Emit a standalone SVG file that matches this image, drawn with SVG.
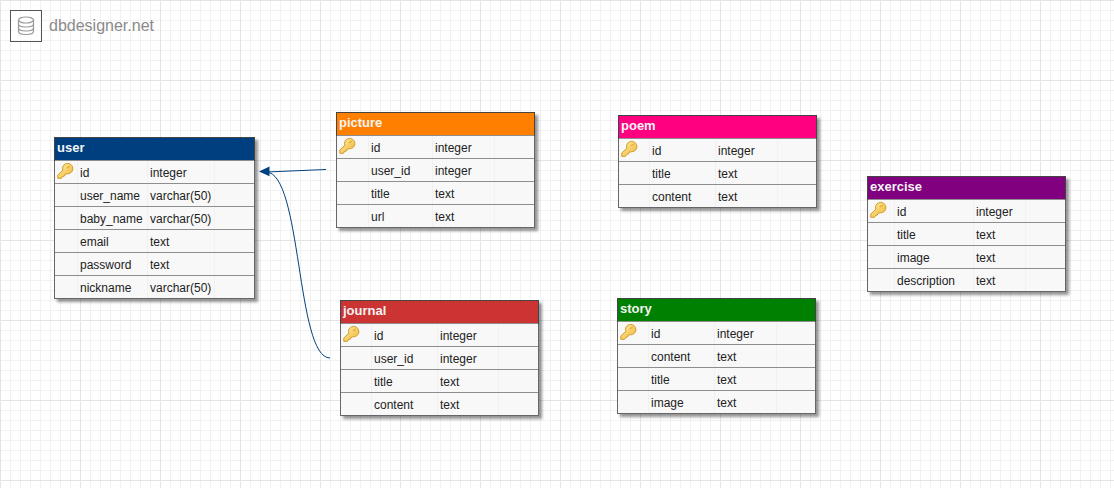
<svg xmlns="http://www.w3.org/2000/svg" xmlns:xlink="http://www.w3.org/1999/xlink" width="1114" height="488" viewBox="0 0 1114 488">
<style>
text{font-family:"Liberation Sans",Arial,sans-serif;font-size:12px;fill:#222}
.h{font-weight:bold;font-size:13px;fill:#f4f4f4}
.box{fill:#f8f8f8;stroke:#666;stroke-width:1;filter:url(#sh)}
.hd{stroke:#444;stroke-width:1}
.ln{stroke:#8e8e8e;stroke-width:1}
.cs{stroke:#f1f1f1;stroke-width:1}
.conn{fill:none;stroke:#00427f;stroke-width:1}
</style>
<defs>
<pattern id="g1" width="10" height="10" patternUnits="userSpaceOnUse"><path d="M.5 0V10M0 .5H10" fill="none" stroke="#f1f1f1"/></pattern>
<pattern id="g2" width="80" height="80" patternUnits="userSpaceOnUse"><path d="M.5 0V80M0 .5H80" fill="none" stroke="#e4e4e4"/></pattern>
<filter id="sh" x="-5%" y="-5%" width="115%" height="115%"><feDropShadow dx="3" dy="3" stdDeviation="1.800" flood-color="#000" flood-opacity=".42"/></filter>
<linearGradient id="kg" x1="0" y1="0" x2="1" y2="1"><stop offset="0" stop-color="#fff2a8"/><stop offset="1" stop-color="#f0b030"/></linearGradient>
<g id="key"><path d="M.8 12 L.8 15.300 L4.500 15.300 L5.500 13.500 L7.500 13 L8.300 11 L10.500 10.800 A5.200 5.200 0 1 0 5.500 5.800 L6 7.200 Z" fill="url(#kg)" stroke="#d29a2a" stroke-width="1"/><path d="M9.800 5 L12.800 3.200" stroke="#e3ad3c" stroke-width="1.400" fill="none"/></g>
</defs>
<rect width="1114" height="488" fill="#fff"/>
<rect width="1114" height="488" fill="url(#g1)"/>
<rect width="1114" height="488" fill="url(#g2)"/>
<g id="logo">
<rect x="10.500" y="10.500" width="31" height="31" fill="#fff" fill-opacity=".6" stroke="#555"/>
<g fill="none" stroke="#999" stroke-width="1.200"><ellipse cx="26" cy="20" rx="7.500" ry="3"/><path d="M18.500 20V31.500C18.500 35.500 33.500 35.500 33.500 31.500V20M18.500 24C18.500 28 33.500 28 33.500 24M18.500 28C18.500 32 33.500 32 33.500 28"/></g>
<text x="49" y="31" style="font-size:16px;fill:#8a8a8a">dbdesigner.net</text>
</g>
<g id="connectors">
<path class="conn" d="M326 169.500 L266 172"/>
<path class="conn" d="M330 358 C296 358 302 172 266 172"/>
<path d="M259 171.400 L269.500 166.500 L269.500 176.300 Z" fill="#00427f"/>
</g>
<g id="user">
<rect class="box" x="54.500" y="137.500" width="200" height="161"/>
<path class="cs" d="M77.500 161V298M147.500 161V298M214.500 161V298"/>
<rect class="hd" x="54.500" y="137.500" width="200" height="23" fill="#003f7f"/>
<path class="ln" d="M55 160.500H254M55 183.500H254M55 206.500H254M55 229.500H254M55 252.500H254M55 275.500H254"/>
<text class="h" x="57" y="152">user</text>
<use xlink:href="#key" href="#key" x="57" y="163"/>
<text x="80" y="177">id</text><text x="150" y="177">integer</text>
<text x="80" y="200">user_name</text><text x="150" y="200">varchar(50)</text>
<text x="80" y="223">baby_name</text><text x="150" y="223">varchar(50)</text>
<text x="80" y="246">email</text><text x="150" y="246">text</text>
<text x="80" y="269">password</text><text x="150" y="269">text</text>
<text x="80" y="292">nickname</text><text x="150" y="292">varchar(50)</text>
</g>
<g id="picture">
<rect class="box" x="336.500" y="112.500" width="198" height="115"/>
<path class="cs" d="M368.500 136V227M432.500 136V227M494.500 136V227"/>
<rect class="hd" x="336.500" y="112.500" width="198" height="23" fill="#ff8000"/>
<path class="ln" d="M337 135.500H534M337 158.500H534M337 181.500H534M337 204.500H534"/>
<text class="h" x="339" y="127">picture</text>
<use xlink:href="#key" href="#key" x="339" y="138"/>
<text x="371" y="152">id</text><text x="435" y="152">integer</text>
<text x="371" y="175">user_id</text><text x="435" y="175">integer</text>
<text x="371" y="198">title</text><text x="435" y="198">text</text>
<text x="371" y="221">url</text><text x="435" y="221">text</text>
</g>
<g id="poem">
<rect class="box" x="618.500" y="115.500" width="198" height="92"/>
<path class="cs" d="M649.500 139V207M715.500 139V207M777.500 139V207"/>
<rect class="hd" x="618.500" y="115.500" width="198" height="23" fill="#ff0080"/>
<path class="ln" d="M619 138.500H816M619 161.500H816M619 184.500H816"/>
<text class="h" x="621" y="130">poem</text>
<use xlink:href="#key" href="#key" x="621" y="141"/>
<text x="652" y="155">id</text><text x="718" y="155">integer</text>
<text x="652" y="178">title</text><text x="718" y="178">text</text>
<text x="652" y="201">content</text><text x="718" y="201">text</text>
</g>
<g id="exercise">
<rect class="box" x="867.500" y="176.500" width="198" height="115"/>
<path class="cs" d="M894.500 200V291M973.500 200V291M1025.500 200V291"/>
<rect class="hd" x="867.500" y="176.500" width="198" height="23" fill="#800080"/>
<path class="ln" d="M868 199.500H1065M868 222.500H1065M868 245.500H1065M868 268.500H1065"/>
<text class="h" x="870" y="191">exercise</text>
<use xlink:href="#key" href="#key" x="870" y="202"/>
<text x="897" y="216">id</text><text x="976" y="216">integer</text>
<text x="897" y="239">title</text><text x="976" y="239">text</text>
<text x="897" y="262">image</text><text x="976" y="262">text</text>
<text x="897" y="285">description</text><text x="976" y="285">text</text>
</g>
<g id="journal">
<rect class="box" x="340.500" y="300.500" width="198" height="115"/>
<path class="cs" d="M371.500 324V415M437.500 324V415M498.500 324V415"/>
<rect class="hd" x="340.500" y="300.500" width="198" height="23" fill="#cc3333"/>
<path class="ln" d="M341 323.500H538M341 346.500H538M341 369.500H538M341 392.500H538"/>
<text class="h" x="343" y="315">journal</text>
<use xlink:href="#key" href="#key" x="343" y="326"/>
<text x="374" y="340">id</text><text x="440" y="340">integer</text>
<text x="374" y="363">user_id</text><text x="440" y="363">integer</text>
<text x="374" y="386">title</text><text x="440" y="386">text</text>
<text x="374" y="409">content</text><text x="440" y="409">text</text>
</g>
<g id="story">
<rect class="box" x="617.500" y="298.500" width="198" height="115"/>
<path class="cs" d="M648.500 322V413M714.500 322V413M776.500 322V413"/>
<rect class="hd" x="617.500" y="298.500" width="198" height="23" fill="#008000"/>
<path class="ln" d="M618 321.500H815M618 344.500H815M618 367.500H815M618 390.500H815"/>
<text class="h" x="620" y="313">story</text>
<use xlink:href="#key" href="#key" x="620" y="324"/>
<text x="651" y="338">id</text><text x="717" y="338">integer</text>
<text x="651" y="361">content</text><text x="717" y="361">text</text>
<text x="651" y="384">title</text><text x="717" y="384">text</text>
<text x="651" y="407">image</text><text x="717" y="407">text</text>
</g>
</svg>
